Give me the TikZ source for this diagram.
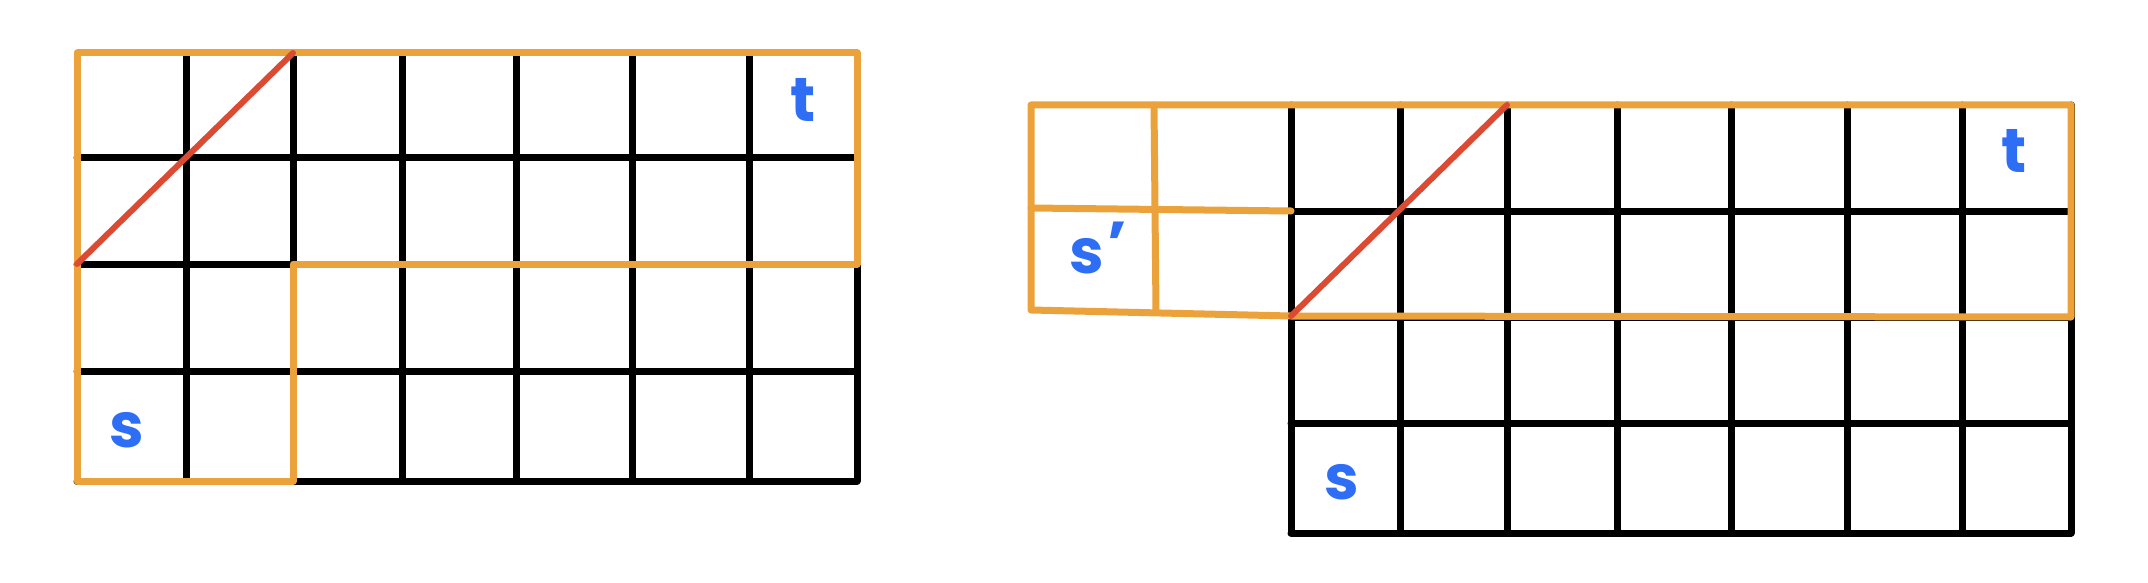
\documentclass[tikz,border=0pt]{standalone}
\usepackage{fontspec}
\setmainfont{Poppins}
\definecolor{gridorange}{HTML}{EBA23A}
\definecolor{pathred}{HTML}{DB4A32}
\definecolor{labelblue}{HTML}{2E6EF5}
\begin{document}
\begin{tikzpicture}[x=1pt,y=-1pt,
  blackline/.style={draw=black,line width=7pt,line cap=round,line join=round},
  orangeline/.style={draw=gridorange,line width=7pt,line cap=round,line join=round},
  redline/.style={draw=pathred,line width=6pt,line cap=round},
  lbl/.style={text=labelblue,font=\fontsize{62}{62}\selectfont\bfseries,inner sep=0pt}]
\useasboundingbox (0,0) rectangle (2148,583);
% ---------- left grid ----------
\foreach \x in {186,293,402,516,632,749}
  \draw[blackline] (\x,53) -- (\x,481);
\draw[blackline] (857,264) -- (857,481);
\foreach \y in {158,264,371,481}
  \draw[blackline] (77,\y) -- (857,\y);
\draw[orangeline] (77,53) -- (857,53) -- (857,264) -- (293,264) -- (293,481) -- (77,481) -- cycle;
\coordinate (la) at (77,264);
\coordinate (lb) at (293,53);
\draw[redline] (la) -- (lb);
\node[lbl] (s1) at (127,430) {s};
\node[lbl] (t1) at (803,100) {t};
% ---------- right grid ----------
\foreach \x in {1291,1400,1507,1617,1731,1847,1962,2071}
  \draw[blackline] (\x,105) -- (\x,533);
\foreach \y in {211,317,423,533}
  \draw[blackline] (1291,\y) -- (2071,\y);
\draw[orangeline] (1031,105) -- (2071,105) -- (2071,317) -- (1291,316) -- (1031,310) -- cycle;
\draw[orangeline] (1154,105) -- (1156,312);
\draw[orangeline] (1031,208) -- (1291,211);
\coordinate (ra) at (1291,316);
\coordinate (rb) at (1507,105);
\draw[redline] (ra) -- (rb);
\node[lbl] (s2) at (1342,482) {s};
\node[lbl] (t2) at (2014,151) {t};
\node[lbl] (sp) at (1098,248) {s\kern3pt\raisebox{8pt}{'}};
\end{tikzpicture}
\end{document}
